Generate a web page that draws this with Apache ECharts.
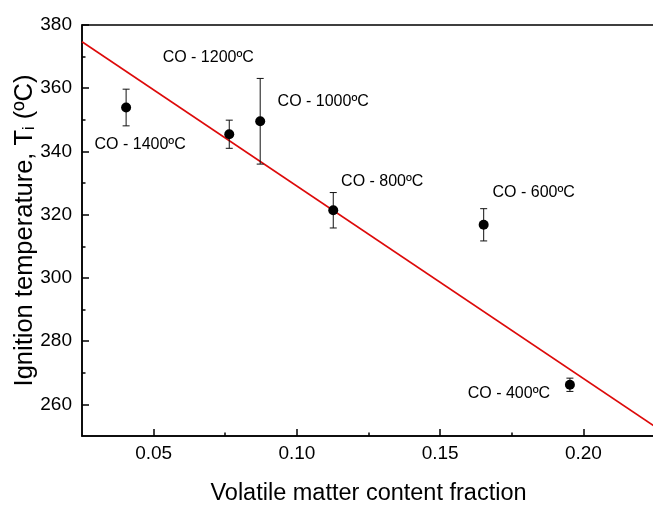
<!DOCTYPE html>
<html><head><meta charset="utf-8">
<script src="https://cdn.jsdelivr.net/npm/echarts@6/dist/echarts.min.js"></script>
<style>html,body{margin:0;padding:0;background:#fff}#c{width:653px;height:505px}</style>
</head><body><div id="c"></div>
<script>
const sampleNames = ['CO - 1400ºC','CO - 1200ºC','CO - 1000ºC','CO - 800ºC','CO - 600ºC','CO - 400ºC'];
const volatileFraction = [0.0404, 0.0764, 0.0872, 0.1127, 0.1652, 0.1953];
const ignitionTemp = [353.9, 345.45, 349.55, 321.4, 316.8, 266.2];
const ignitionErr = [5.8, 4.45, 13.55, 5.6, 5.1, 2.1];
const fitX = [0.025, 0.225];
const fitY = [374.7, 253.0];
const xMajorTicks = [0.05, 0.10, 0.15, 0.20];
const xMinorTicks = [0.075, 0.125, 0.175];
const yMajorTicks = [260, 280, 300, 320, 340, 360, 380];
const yMinorTicks = [270, 290, 310, 330, 350, 370];
const labelOffsets = [[14,37],[-21,-77],[63,-20],[49,-29],[50,-32],[-61,9]];

const FONT = 'Liberation Sans, Arial, sans-serif';
const chart = echarts.init(document.getElementById('c'), null, {renderer:'canvas'});

const axisLineStyle = {color:'#000', width:1.5};
const opt = {
  animation:false,
  backgroundColor:'#fff',
  grid:{left:82, top:25, width:573, height:411, show:true, borderColor:'#000', borderWidth:1.5,
    backgroundColor:'transparent', containLabel:false, outerBoundsMode:'none'},
  xAxis:[{
    type:'value', min:0.025, max:0.225, interval:0.025, position:'bottom',
    axisLine:{show:true, onZero:false, lineStyle:axisLineStyle},
    axisTick:{show:true, inside:true, length:7, customValues:xMajorTicks, lineStyle:axisLineStyle},
    axisLabel:{show:true, customValues:xMajorTicks, formatter:v=>Number(v).toFixed(2), fontSize:19, color:'#000', margin:8, fontFamily:FONT},
    splitLine:{show:false},
    name:'Volatile matter content fraction', nameLocation:'middle', nameGap:46, nameMoveOverlap:false,
    nameTextStyle:{fontSize:23.5, color:'#000', fontFamily:FONT}
  },{
    type:'value', min:0.025, max:0.225, interval:0.025, position:'bottom',
    axisLine:{show:false},
    axisTick:{show:true, inside:true, length:3.5, customValues:xMinorTicks, lineStyle:axisLineStyle},
    axisLabel:{show:false}, splitLine:{show:false}
  }],
  yAxis:[{
    type:'value', min:250, max:380, interval:10, position:'left',
    axisLine:{show:true, onZero:false, lineStyle:axisLineStyle},
    axisTick:{show:true, inside:true, length:7, customValues:yMajorTicks, lineStyle:axisLineStyle},
    axisLabel:{show:true, customValues:yMajorTicks, fontSize:19, color:'#000', margin:10, fontFamily:FONT},
    splitLine:{show:false},
    name:'Ignition temperature, T{s|i} (ºC)', nameLocation:'middle', nameGap:44, nameRotate:90, nameMoveOverlap:false,
    nameTextStyle:{fontSize:25.5, color:'#000', fontFamily:FONT,
      rich:{s:{fontSize:16, color:'#000', fontFamily:FONT, padding:[11,0,0,0]}}}
  },{
    type:'value', min:250, max:380, interval:10, position:'left',
    axisLine:{show:false},
    axisTick:{show:true, inside:true, length:3.5, customValues:yMinorTicks, lineStyle:axisLineStyle},
    axisLabel:{show:false}, splitLine:{show:false}
  }],
  series:[
    {
      type:'line', xAxisIndex:0, yAxisIndex:0, data:fitX.map((x,i)=>[x,fitY[i]]),
      symbol:'none', lineStyle:{color:'#dd0a0a', width:1.6}, z:2, clip:true
    },
    {
      type:'custom', xAxisIndex:0, yAxisIndex:0, z:3,
      data:volatileFraction.map((x,i)=>[x, ignitionTemp[i]-ignitionErr[i], ignitionTemp[i]+ignitionErr[i]]),
      renderItem:function(params, api){
        const x = api.value(0);
        const lo = api.coord([x, api.value(1)]);
        const hi = api.coord([x, api.value(2)]);
        const w = 3.5;
        const st = {stroke:'#111', lineWidth:1};
        return {type:'group', children:[
          {type:'line', shape:{x1:hi[0], y1:hi[1], x2:lo[0], y2:lo[1]}, style:st},
          {type:'line', shape:{x1:hi[0]-w, y1:hi[1], x2:hi[0]+w, y2:hi[1]}, style:st},
          {type:'line', shape:{x1:lo[0]-w, y1:lo[1], x2:lo[0]+w, y2:lo[1]}, style:st}
        ]};
      }
    },
    {
      type:'scatter', xAxisIndex:0, yAxisIndex:0, z:4,
      symbol:'circle', symbolSize:10, itemStyle:{color:'#000', opacity:1},
      emphasis:{disabled:true},
      data:volatileFraction.map((x,i)=>({
        value:[x, ignitionTemp[i]], name:sampleNames[i],
        label:{show:true, position:'inside', offset:labelOffsets[i], formatter:sampleNames[i],
          fontSize:16, color:'#000', fontFamily:FONT, align:'center', verticalAlign:'middle'}
      }))
    }
  ]
};
chart.setOption(opt);
</script></body></html>
